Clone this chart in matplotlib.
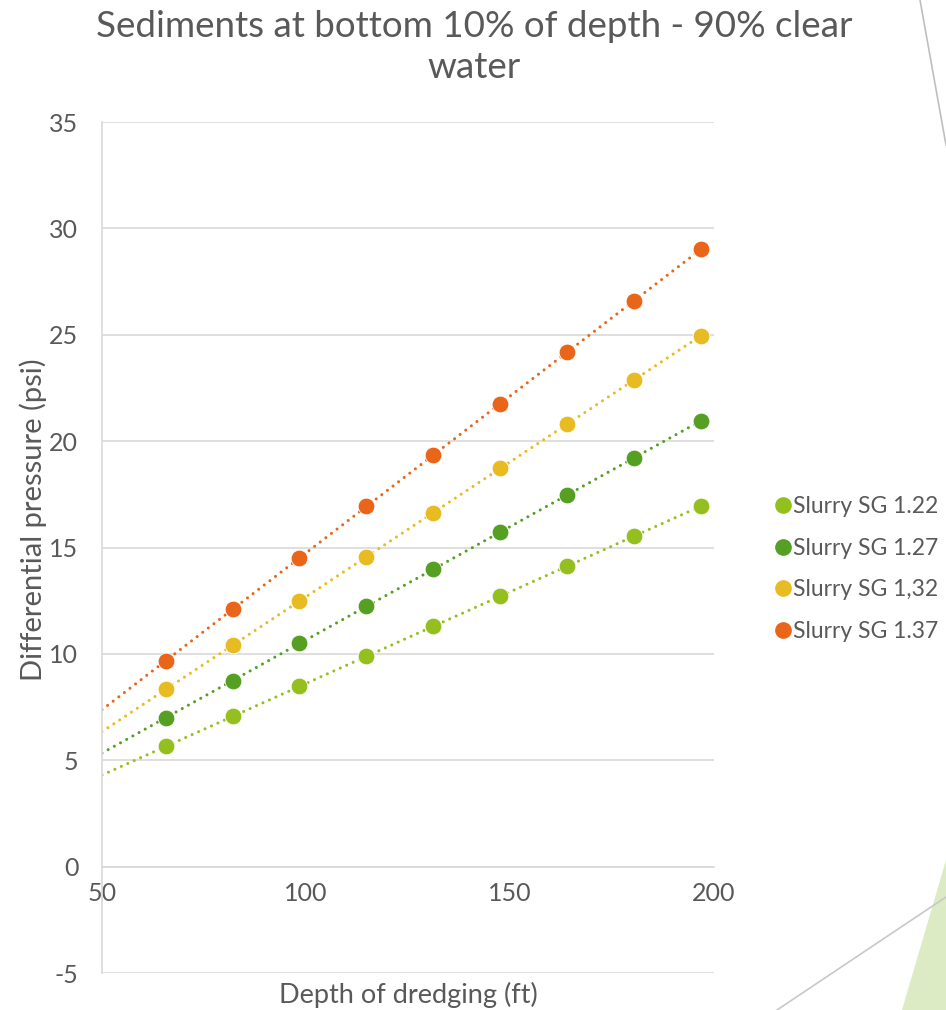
import numpy as np
import matplotlib
matplotlib.use('Agg')
import matplotlib.pyplot as plt
from matplotlib.patches import Polygon
from matplotlib.lines import Line2D

plt.rcParams['font.family'] = ['Lato', 'DejaVu Sans']
plt.rcParams['axes.unicode_minus'] = False

# depth of dredging (ft) and differential pressure (psi) per slurry
depth = [65.6, 82.0, 98.4, 114.8, 131.2, 147.6, 164.0, 180.4, 196.8]
sg_122 = [5.65, 7.06, 8.47, 9.88, 11.30, 12.71, 14.12, 15.53, 16.95]
sg_127 = [7.00, 8.74, 10.49, 12.23, 13.98, 15.72, 17.47, 19.21, 20.96]
sg_132 = [8.33, 10.40, 12.48, 14.56, 16.64, 18.72, 20.80, 22.88, 24.95]
sg_137 = [9.68, 12.09, 14.51, 16.93, 19.34, 21.76, 24.18, 26.60, 29.02]

labels = ['Slurry SG 1.22', 'Slurry SG 1.27', 'Slurry SG 1,32', 'Slurry SG 1.37']
colors = ['#93c01f', '#55a023', '#e8bb22', '#e8651a']
series = [sg_122, sg_127, sg_132, sg_137]

text_col = '#595959'
grid_col = '#d9d9d9'

fig = plt.figure(figsize=(9.46, 10.10), dpi=100)
ax = fig.add_axes([0.1078, 0.0366, 0.647, 0.8426])

x = np.array(depth)
for vals, c, lab in zip(series, colors, labels):
    y = np.array(vals)
    # linear trendline, extended back to the left edge
    k, b = np.polyfit(x, y, 1)
    xt = np.array([50, x[-1]])
    ax.plot(xt, k * xt + b, color=c, lw=2.2, dashes=(0.01, 2.3),
            dash_capstyle='round', zorder=2)
    ax.scatter(x, y, s=145, color=c, edgecolors='white', linewidths=0.6,
               zorder=3, label=lab)

ax.set_xlim(50, 200)
ax.set_ylim(-5, 35)
ax.set_xticks([50, 100, 150, 200])
ax.set_yticks(range(-5, 36, 5))
ax.yaxis.grid(True, color=grid_col, lw=1.2)
ax.set_axisbelow(True)

for s in ['top', 'right']:
    ax.spines[s].set_visible(False)
ax.spines['left'].set_color(grid_col)
ax.spines['left'].set_linewidth(1.2)
ax.spines['bottom'].set_position(('data', 0))
ax.spines['bottom'].set_color(grid_col)
ax.spines['bottom'].set_linewidth(1.2)

ax.tick_params(length=0, labelsize=18, colors=text_col)
ax.tick_params(axis='x', pad=11)
ax.tick_params(axis='y', pad=17)

fig.text(33 / 946, 1 - 520 / 1010, 'Differential pressure (psi)', fontsize=21,
         color=text_col, ha='center', va='center', rotation=90)
fig.text(408 / 946, 1 - 995 / 1010, 'Depth of dredging (ft)', fontsize=19.5,
         color=text_col, ha='center', va='center')

fig.suptitle('Sediments at bottom 10% of depth - 90% clear\nwater',
             fontsize=26.5, color=text_col, x=474 / 946, y=0.990, va='top',
             linespacing=1.3)

handles = [Line2D([], [], marker='o', ls='', color=c, markersize=11) for c in colors]
ax.legend(handles, labels, loc='center left', frameon=False, fontsize=16.5,
          bbox_to_anchor=(764 / 946, 1 - 569 / 1010), bbox_transform=fig.transFigure,
          borderpad=0, handlelength=0.7, handletextpad=0.05, labelspacing=0.9,
          labelcolor=text_col)

# slide decoration on the right edge
W, H = 946, 1010
def fx(px):
    return px / W
def fy(py):
    return 1 - py / H

fig.add_artist(Polygon([(fx(902), fy(1010)), (fx(946), fy(860)), (fx(946), fy(1010))],
                       closed=True, transform=fig.transFigure,
                       facecolor='#dcebc4', edgecolor='none', zorder=0))
fig.add_artist(Line2D([fx(920), fx(946)], [fy(0), fy(145)], transform=fig.transFigure,
                      color='#bfbfbf', lw=1.2))
fig.add_artist(Line2D([fx(777), fx(946)], [fy(1010), fy(897)], transform=fig.transFigure,
                      color='#c8c8c8', lw=1.2))

fig.savefig('out.png', dpi=100)
